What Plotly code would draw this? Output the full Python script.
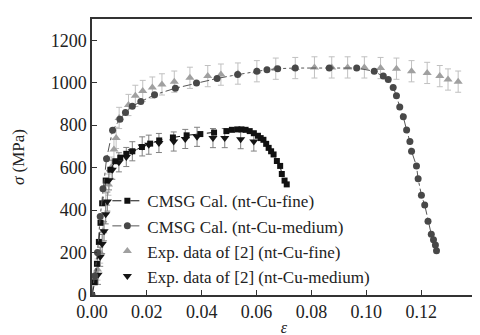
import plotly.graph_objects as go

# CMSG Cal. (nt-Cu-fine)
cmsg_fine_eps = [0, 0.001, 0.0018, 0.0025, 0.0031, 0.0037, 0.005, 0.0067, 0.0085, 0.0103, 0.0125, 0.0147,
                 0.0182, 0.0212, 0.0245, 0.0295, 0.0345, 0.0395, 0.0445, 0.049, 0.051, 0.053, 0.0545,
                 0.056, 0.0575, 0.059, 0.0605, 0.0615, 0.0625, 0.0635, 0.0644, 0.0653, 0.0662, 0.0674,
                 0.0686, 0.0692, 0.0702, 0.071]
cmsg_fine_sig = [0, 60, 147, 250, 340, 432, 539, 590, 630, 647, 665, 677,
                 697, 713, 728, 742, 752, 758, 765, 772, 778, 780, 780,
                 778, 772, 762, 750, 739, 731, 712, 693, 677, 662, 631,
                 608, 570, 539, 521]

# CMSG Cal. (nt-Cu-medium)
cmsg_med_eps = [0, 0.001, 0.002, 0.003, 0.004, 0.0053, 0.0075, 0.0102, 0.0122, 0.0147, 0.0178, 0.0228,
                0.0304, 0.0381, 0.0456, 0.0531, 0.0601, 0.0638, 0.0677, 0.0741, 0.0865, 0.0965, 0.1029,
                0.1062, 0.108, 0.1098, 0.111, 0.1122, 0.1135, 0.1147, 0.1159, 0.1165, 0.1183, 0.1189,
                0.1201, 0.1213, 0.1225, 0.1237, 0.1245, 0.1252, 0.1256]
cmsg_med_sig = [0, 90, 200, 370, 500, 642, 776, 828, 860, 889, 911, 943,
                974, 999, 1020, 1038, 1054, 1061, 1066, 1069, 1069, 1069, 1054,
                1031, 1015, 977, 939, 885, 839, 777, 723, 677, 608, 547,
                470, 424, 347, 286, 260, 235, 209]

# Exp. data of [2] (nt-Cu-fine)
exp_fine_eps = [0.002, 0.003, 0.004, 0.005, 0.006, 0.007, 0.008, 0.0088, 0.0099, 0.0133, 0.0158, 0.0185,
                0.022, 0.0255, 0.03, 0.0357, 0.0422, 0.047, 0.0532, 0.0601, 0.067, 0.0741, 0.0811,
                0.0874, 0.0932, 0.0993, 0.1052, 0.111, 0.1165, 0.1222, 0.1268, 0.1298, 0.1335]
exp_fine_sig = [120, 200, 300, 430, 520, 600, 685, 740, 834, 895, 938, 961,
                977, 992, 1005, 1023, 1031, 1038, 1043, 1054, 1066, 1069, 1072,
                1072, 1072, 1072, 1069, 1066, 1054, 1046, 1031, 1015, 1005]
exp_fine_err = [50] * len(exp_fine_eps)

# Exp. data of [2] (nt-Cu-medium)
exp_med_eps = [0.0022, 0.003, 0.0037, 0.0044, 0.005, 0.0056, 0.0062, 0.0074, 0.0098, 0.0125, 0.0147,
               0.0183, 0.0207, 0.0244, 0.0298, 0.034, 0.0383, 0.0441, 0.0484, 0.0542, 0.059]
exp_med_sig = [95, 180, 240, 300, 380, 440, 540, 590, 625, 650, 677,
               700, 708, 716, 723, 735, 745, 739, 739, 734, 723]
exp_med_err = [45] * len(exp_med_eps)

x_ticks = [0.00, 0.02, 0.04, 0.06, 0.08, 0.10, 0.12, 0.14]
y_ticks = [0, 200, 400, 600, 800, 1000, 1200]

FONT = "Liberation Serif"

fig = go.Figure()
fig.add_trace(go.Scatter(
    x=exp_fine_eps, y=exp_fine_sig, mode="markers", name="Exp. data of [2] (nt-Cu-fine)",
    legendrank=3,
    marker=dict(symbol="triangle-up", size=8, color="#a0a0a0"),
    error_y=dict(type="data", array=exp_fine_err, color="#c0c0c0", thickness=1, width=3),
))
fig.add_trace(go.Scatter(
    x=exp_med_eps, y=exp_med_sig, mode="markers", name="Exp. data of [2] (nt-Cu-medium)",
    legendrank=4,
    marker=dict(symbol="triangle-down", size=8, color="#151515"),
    error_y=dict(type="data", array=exp_med_err, color="#808080", thickness=1, width=3),
))
fig.add_trace(go.Scatter(
    x=cmsg_fine_eps, y=cmsg_fine_sig, mode="lines+markers", name="CMSG Cal. (nt-Cu-fine)",
    legendrank=1,
    line=dict(color="#111111", width=1, dash="dash"),
    marker=dict(symbol="square", size=6, color="#111111"),
))
fig.add_trace(go.Scatter(
    x=cmsg_med_eps, y=cmsg_med_sig, mode="lines+markers", name="CMSG Cal. (nt-Cu-medium)",
    legendrank=2,
    line=dict(color="#555555", width=1, dash="dashdot"),
    marker=dict(symbol="circle", size=7, color="#484848"),
))

fig.update_layout(
    width=480, height=335,
    margin=dict(l=83, r=12, t=9, b=43),
    paper_bgcolor="white", plot_bgcolor="white",
    font=dict(family=FONT, size=18, color="#222222"),
    legend=dict(
        x=0.04, y=0.405, xanchor="left", yanchor="top",
        bgcolor="rgba(255,255,255,0)", font=dict(size=17, family=FONT),
        traceorder="normal", itemwidth=30,
    ),
    showlegend=True,
)
fig.update_xaxes(
    range=[0, 0.14], tickvals=x_ticks, ticktext=[f"{v:.2f}" for v in x_ticks],
    ticks="inside", ticklen=5, tickcolor="#333", showline=True, linecolor="#333", linewidth=1.5,
    mirror=True, showgrid=False, zeroline=False,
    title=dict(text="<i>ε</i>", standoff=0, font=dict(size=16)),
)
fig.update_yaxes(
    range=[0, 1300], tickvals=y_ticks,
    ticks="inside", ticklen=5, tickcolor="#333", showline=True, linecolor="#333", linewidth=1.5,
    mirror=True, showgrid=False, zeroline=False,
    title=dict(text="<i>σ</i> (MPa)", standoff=22, font=dict(size=17)),
)

fig.write_html("out.html")
